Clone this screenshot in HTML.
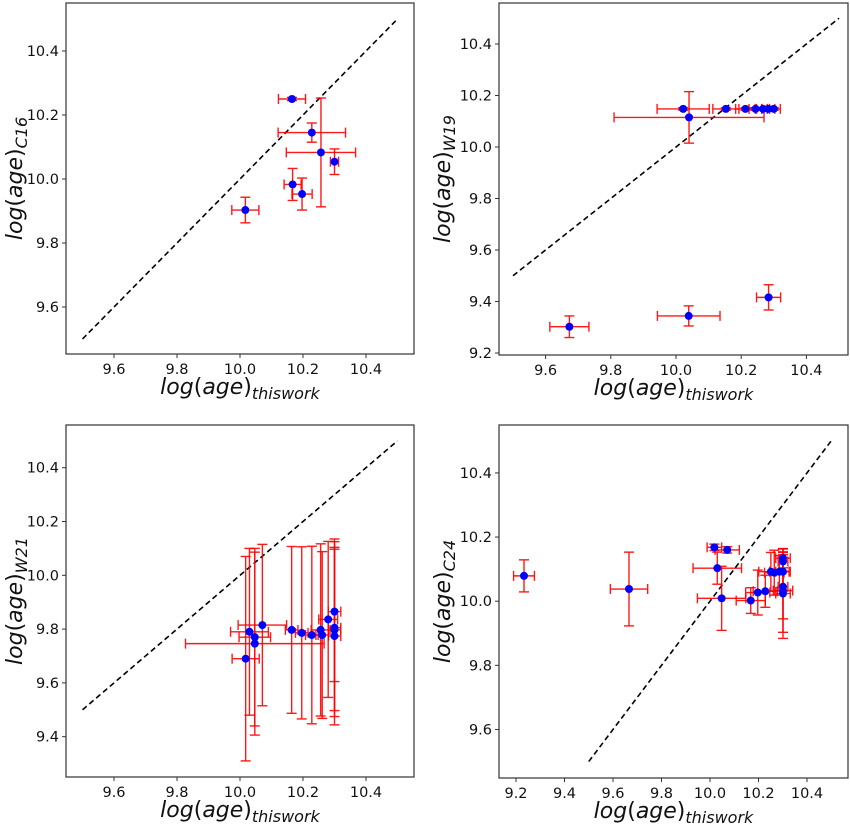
<!DOCTYPE html>
<html><head><meta charset="utf-8">
<style>
html,body{margin:0;padding:0;background:#fff;}
svg{display:block;font-family:"DejaVu Sans","Liberation Sans",sans-serif;}
</style></head>
<body>
<svg id="fig" width="850" height="825" viewBox="0 0 850 825" xmlns="http://www.w3.org/2000/svg"></svg>
<script>
// Panel 1 (C16)
const p1X=[10.165,10.228,10.257,10.300,10.167,10.197,10.017];
const p1Y=[10.25,10.145,10.083,10.054,9.983,9.953,9.903];
const p1XE=[0.043,0.107,0.11,0.013,0.027,0.032,0.043];
const p1YE=[0.005,0.03,0.17,0.04,0.05,0.05,0.04];
const p1XTicks=[9.6,9.8,10.0,10.2,10.4];
const p1YTicks=[9.6,9.8,10.0,10.2,10.4];
// Panel 2 (W19)
const p2X=[10.022,10.153,10.213,10.244,10.267,10.283,10.30,10.04,9.673,10.039,10.284];
const p2Y=[10.148,10.148,10.148,10.148,10.148,10.148,10.148,10.115,9.302,9.344,9.416];
const p2XE=[0.08,0.04,0.03,0.02,0.02,0.02,0.02,0.23,0.06,0.096,0.037];
const p2YE=[0.005,0.005,0.005,0.005,0.005,0.005,0.005,0.1,0.042,0.039,0.049];
const p2XTicks=[9.6,9.8,10.0,10.2,10.4];
const p2YTicks=[9.2,9.4,9.6,9.8,10.0,10.2,10.4];
// Panel 3 (W21)
const p3X=[10.018,10.03,10.047,10.047,10.071,10.164,10.196,10.228,10.256,10.261,10.28,10.30,10.30,10.30,10.30];
const p3Y=[9.69,9.79,9.77,9.746,9.815,9.797,9.786,9.778,9.797,9.778,9.836,9.865,9.805,9.797,9.774];
const p3XE=[0.043,0.06,0.05,0.22,0.077,0.02,0.02,0.02,0.03,0.02,0.03,0.02,0.02,0.02,0.02];
const p3YE=[0.38,0.31,0.33,0.34,0.3,0.31,0.32,0.33,0.32,0.31,0.29,0.26,0.33,0.3,0.33];
const p3XTicks=[9.6,9.8,10.0,10.2,10.4];
const p3YTicks=[9.4,9.6,9.8,10.0,10.2,10.4];
// Panel 4 (C24)
const p4X=[9.233,9.666,10.018,10.071,10.03,10.048,10.168,10.197,10.228,10.251,10.265,10.286,10.301,10.301,10.301,10.301,10.301,10.301];
const p4Y=[10.079,10.038,10.168,10.16,10.103,10.009,10.002,10.027,10.031,10.092,10.089,10.092,10.134,10.124,10.092,10.045,10.033,10.024];
const p4XE=[0.043,0.077,0.03,0.05,0.1,0.1,0.06,0.05,0.05,0.05,0.04,0.04,0.03,0.02,0.03,0.02,0.04,0.03];
const p4YE=[0.05,0.115,0.01,0.01,0.05,0.1,0.04,0.07,0.05,0.06,0.07,0.05,0.03,0.03,0.06,0.1,0.13,0.14];
const p4XTicks=[9.2,9.4,9.6,9.8,10.0,10.2,10.4];
const p4YTicks=[9.6,9.8,10.0,10.2,10.4];

const NS="http://www.w3.org/2000/svg";
const svg=document.getElementById('fig');
function mk(tag,attrs,parent){const e=document.createElementNS(NS,tag);for(const k in attrs)e.setAttribute(k,attrs[k]);(parent||svg).appendChild(e);return e;}

const panels=[
 {id:'c16',sub:'C16',frame:[66,3,414,354],xs:{v:10,p:240,k:315},ys:{v:10,p:179,k:320},X:p1X,Y:p1Y,XE:p1XE,YE:p1YE,xt:p1XTicks,yt:p1YTicks,ylx:22},
 {id:'w19',sub:'W19',frame:[499,3,848,355],xs:{v:10,p:676,k:326},ys:{v:10,p:147,k:257.5},X:p2X,Y:p2Y,XE:p2XE,YE:p2YE,xt:p2XTicks,yt:p2YTicks,ylx:450},
 {id:'w21',sub:'W21',frame:[66,425,414,777],xs:{v:10,p:240,k:315},ys:{v:10,p:575.3,k:269},X:p3X,Y:p3Y,XE:p3XE,YE:p3YE,xt:p3XTicks,yt:p3YTicks,ylx:22},
 {id:'c24',sub:'C24',frame:[499,425,848,778],xs:{v:10,p:710,k:242.5},ys:{v:10,p:601.2,k:320.7},X:p4X,Y:p4Y,XE:p4XE,YE:p4YE,xt:p4XTicks,yt:p4YTicks,ylx:450}
];

panels.forEach(P=>{
  const g=mk('g',{});
  
  
  const sx=v=>P.xs.p+(v-P.xs.v)*P.xs.k;
  const sy=v=>P.ys.p-(v-P.ys.v)*P.ys.k;
  const [x0,y0,x1,y1]=P.frame;
  const cx=(x0+x1)/2, cy=(y0+y1)/2;
  const ln=mk('line',{x1:sx(9.5),y1:sy(9.5),x2:sx(10.5),y2:sy(10.5),stroke:'#000','stroke-width':1.6,'stroke-dasharray':'5.5,3.5'},g);
  
  
  P.X.forEach((xv,i)=>{
    const eg=mk('g',{stroke:'#ff0000','stroke-width':1.4,opacity:0.9},g);
    
    
    const px=sx(xv),py=sy(P.Y[i]);
    const xl=sx(xv-P.XE[i]),xr=sx(xv+P.XE[i]),yt=sy(P.Y[i]+P.YE[i]),yb=sy(P.Y[i]-P.YE[i]);
    mk('line',{x1:xl,y1:py,x2:xr,y2:py},eg);
    mk('line',{x1:xl,y1:py-5,x2:xl,y2:py+5},eg);
    mk('line',{x1:xr,y1:py-5,x2:xr,y2:py+5},eg);
    mk('line',{x1:px,y1:yt,x2:px,y2:yb},eg);
    mk('line',{x1:px-5,y1:yt,x2:px+5,y2:yt},eg);
    mk('line',{x1:px-5,y1:yb,x2:px+5,y2:yb},eg);
  });
  P.X.forEach((xv,i)=>{
    const c=mk('circle',{cx:sx(xv),cy:sy(P.Y[i]),r:4,fill:'#0000ff'},g);
    
    
  });
  const fr=mk('rect',{x:x0,y:y0,width:x1-x0,height:y1-y0,fill:'none',stroke:'#333','stroke-width':1.2},g);
  
  
  P.xt.forEach(t=>{
    const px=sx(t);
    mk('line',{x1:px,y1:y1,x2:px,y2:y1+4,stroke:'#333','stroke-width':1},g);
    const tx=mk('text',{x:px,y:y1+20,'font-size':14.5,'text-anchor':'middle',fill:'#111'},g);
    tx.textContent=t.toFixed(1);
    
    
  });
  P.yt.forEach(t=>{
    const py=sy(t);
    mk('line',{x1:x0-4,y1:py,x2:x0,y2:py,stroke:'#333','stroke-width':1},g);
    const tx=mk('text',{x:x0-7,y:py+5,'font-size':14.5,'text-anchor':'end',fill:'#111'},g);
    tx.textContent=t.toFixed(1);
    
    
  });
  const xl=mk('text',{x:cx,y:y1+40,'font-size':22,'text-anchor':'middle',fill:'#111'},g);
  
  
  xl.innerHTML='<tspan font-style="italic">log</tspan>(<tspan font-style="italic">age</tspan>)<tspan font-style="italic" font-size="16" dy="5">thiswork</tspan>';
  const yl=mk('text',{x:0,y:0,'font-size':22,'text-anchor':'middle',fill:'#111',transform:`translate(${P.ylx},${cy}) rotate(-90)`},g);
  
  
  yl.innerHTML='<tspan font-style="italic">log</tspan>(<tspan font-style="italic">age</tspan>)<tspan font-style="italic" font-size="16" dy="5">'+P.sub+'</tspan>';
});
</script>
</body></html>
